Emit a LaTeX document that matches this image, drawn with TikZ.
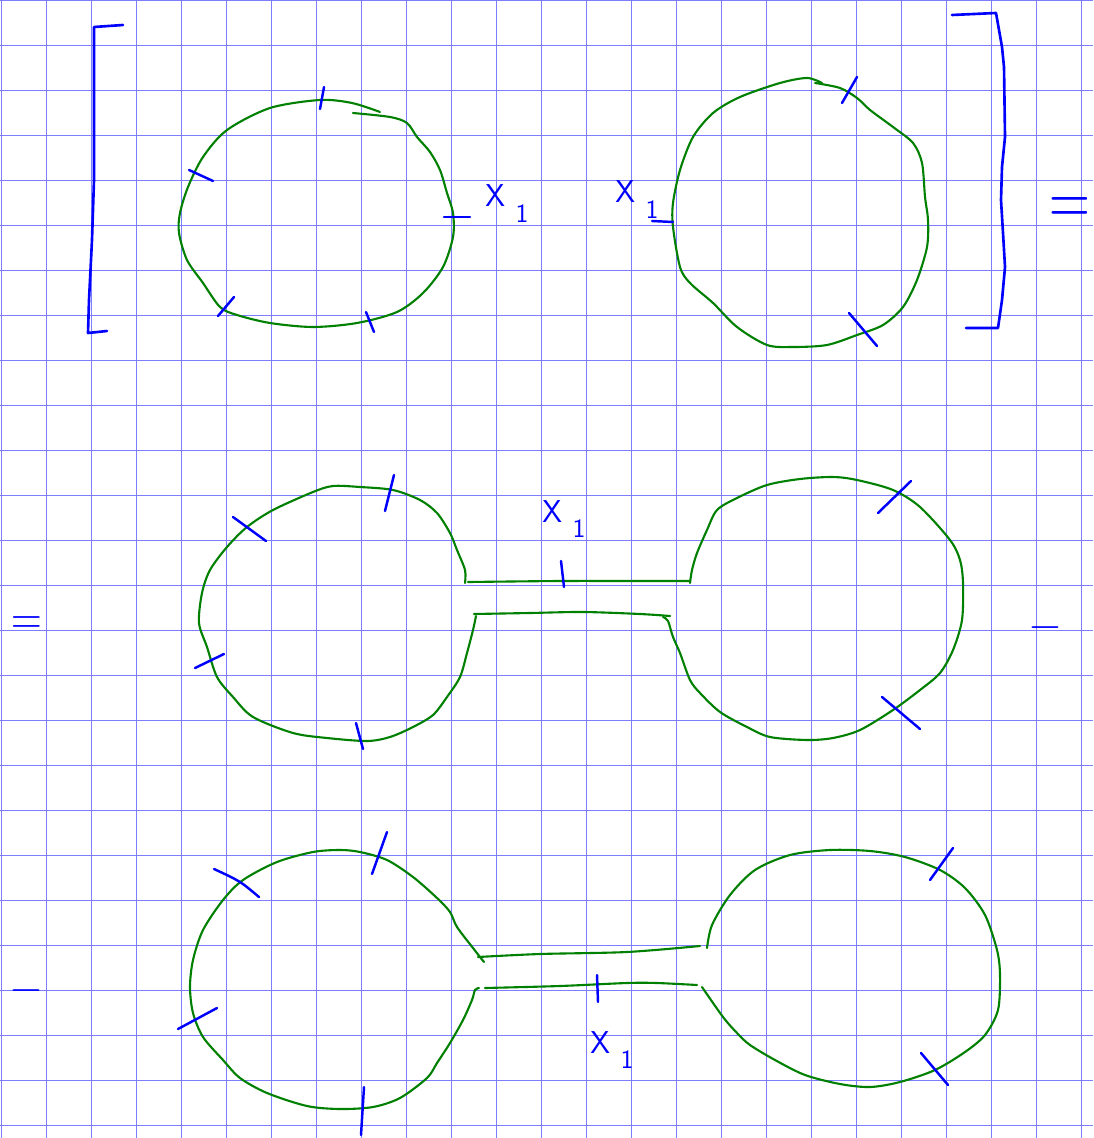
\documentclass[tikz,border=0pt]{standalone}
\usepackage[]{xcolor}
\definecolor{penblue}{RGB}{0,0,255}
\definecolor{pengreen}{RGB}{0,128,0}
\definecolor{paperblue}{RGB}{125,125,255}
\tikzset{paper/.style={paperblue,line width=0.6pt},
prop/.style={pengreen,line width=1.2pt,line cap=round,line join=round},
cut/.style={penblue,line width=1.4pt,line cap=round},
bracket/.style={penblue,line width=1.5pt,line cap=round,line join=round},
xlab/.style={penblue,inner sep=0,anchor=base west,font=\sffamily\fontsize{18}{18}\selectfont},
sign/.style={penblue,inner sep=0,font=\fontsize{#1}{#1}\selectfont}
}
\newcommand{\xsub}{X\hspace{6pt}\raisebox{-9pt}{\fontsize{15}{15}\selectfont 1}}

\begin{document}
\begin{tikzpicture}[x=0.02cm,y=-0.02cm]
  \useasboundingbox (0,0) rectangle (1093,1138);
  \fill[white] (0,0) rectangle (1093,1138);

  % Squared paper
  \foreach \k in {0,...,24}
    \draw[paper] ({1.7+45*\k},0) -- ({1.7+45*\k},1138);
  \foreach \k in {0,...,25}
    \draw[paper] (0,{0.7+45*\k}) -- (1093,{0.7+45*\k});

  % Brackets
  \draw[bracket] (123,25) -- (94,27) -- (94,90) -- (94,180) -- (92,240) -- (89,300) -- (88,333) -- (107,331);
  \draw[bracket] (952,15) -- (996,13) -- (1002,47) -- (1004,67) -- (1005,137) -- (1002,167) -- (1001,200) -- (1003,233) -- (1005,267) -- (1002,300) -- (998,328) -- (966,328);

  % Top left bubble
  \draw[prop] plot[smooth] coordinates {(380,112) (352,103) (320,100) (270,108) (227,130) (203,157) (188,187) (180,213) (179,233) (187,260) (203,283) (220,307) (237,315) (270,323) (313,327) (357,323) (397,312) (423,293) (443,267) (453,237) (453,213) (447,193) (440,170) (430,152) (417,137) (407,123) (390,117) (353,113)};
  \draw[cut] (324,87) -- (320,109);
  \draw[cut] (189,170) -- (213,181);
  \draw[cut] (444,217) -- (470,217);
  \draw[cut] (234,297) -- (218,316);
  \draw[cut] (366,312) -- (374,332);
  \node[xlab] (lab1) at (485,207) {\xsub};

  % Top right bubble
  \draw[prop] plot[smooth] coordinates {(822,83) (807,78) (780,83) (740,97) (713,113) (693,137) (680,170) (673,203) (673,227) (680,267) (690,283) (713,303) (737,327) (767,345) (793,347) (827,345) (857,335) (883,325) (903,307) (917,280) (927,247) (928,220) (925,197) (922,163) (913,143) (893,127) (870,110) (857,98) (840,88) (815,83)};
  \draw[cut] (857,77) -- (842,103);
  \draw[cut] (652,221) -- (673,222);
  \draw[cut] (849,313) -- (877,346);
  \node[xlab] (lab2) at (615,203) {\xsub};

  \node[sign=28] (eq1) at (1070,211) {\scalebox{1.15}[1.6]{=}};

  % Middle row
  \node[sign=22] (eq2) at (27,626) {\scalebox{1.1}[1.3]{=}};
  \draw[prop] plot[smooth] coordinates {(465,583) (465,570) (457,550) (450,533) (437,513) (420,500) (393,490) (360,487) (333,486) (313,492) (273,510) (247,527) (227,547) (210,570) (202,593) (199,623) (207,647) (217,677) (233,697) (253,717) (293,733) (327,738) (367,741) (390,737) (413,727) (433,715) (447,697) (460,677) (467,653) (473,630) (476,616)};
  \draw[prop] plot[smooth] coordinates {(468,582) (560,581) (630,581) (690,581)};
  \draw[prop] plot[smooth] coordinates {(474,614) (530,613) (583,612) (640,614) (670,616)};
  \draw[prop] plot[smooth] coordinates {(690,583) (692,570) (697,553) (707,530) (717,510) (737,498) (767,485) (800,479) (833,477) (857,480) (893,490) (920,507) (950,540) (960,560) (963,583) (962,620) (953,650) (940,673) (920,690) (893,710) (860,730) (833,738) (807,740) (770,737) (747,727) (720,712) (700,693) (690,680) (680,653) (673,637) (668,621) (663,617)};
  \draw[cut] (394,475) -- (385,511);
  \draw[cut] (233,517) -- (266,541);
  \draw[cut] (195,668) -- (224,654);
  \draw[cut] (356,723) -- (363,749);
  \draw[cut] (561,561) -- (564,587);
  \draw[cut] (911,481) -- (878,513);
  \draw[cut] (882,697) -- (920,729);
  \node[xlab] (lab3) at (542,522) {\xsub};
  \node[sign=27] (mi1) at (1045,628) {$-$};

  % Bottom row
  \node[sign=29] (mi2) at (26,991) {$-$};
  \draw[prop] plot[smooth] coordinates {(484,962) (480,957) (473,948) (457,927) (450,912) (437,898) (413,877) (387,860) (360,852) (340,850) (313,852) (277,862) (243,880) (223,900) (203,930) (193,960) (190,987) (193,1013) (203,1037) (223,1060) (240,1078) (267,1093) (307,1106) (340,1109) (373,1107) (400,1098) (427,1078) (437,1063) (450,1043) (463,1020) (472,1000) (475,990) (479,988)};
  \draw[prop] plot[smooth] coordinates {(478,957) (540,954) (627,952) (700,946)};
  \draw[prop] plot[smooth] coordinates {(485,988) (560,986) (627,983) (657,983) (697,985)};
  \draw[prop] plot[smooth] coordinates {(707,948) (712,925) (730,895) (755,870) (790,855) (830,850) (870,851) (905,857) (940,870) (965,888) (985,915) (997,950) (1000,975) (998,1010) (985,1035) (965,1052) (935,1070) (900,1082) (870,1087) (840,1084) (805,1075) (775,1060) (750,1045) (737,1033) (723,1017) (702,987)};
  \draw[cut] (387,832) -- (372,874);
  \draw[cut] (214,869) .. controls (240,881) .. (259,897);
  \draw[cut] (178,1029) -- (217,1008);
  \draw[cut] (364,1087) -- (361,1135);
  \draw[cut] (597,975) -- (598,1002);
  \draw[cut] (953,848) -- (930,880);
  \draw[cut] (921,1053) -- (948,1085);
  \node[xlab] (lab4) at (590,1053) {\xsub};

\end{tikzpicture}
\end{document}
